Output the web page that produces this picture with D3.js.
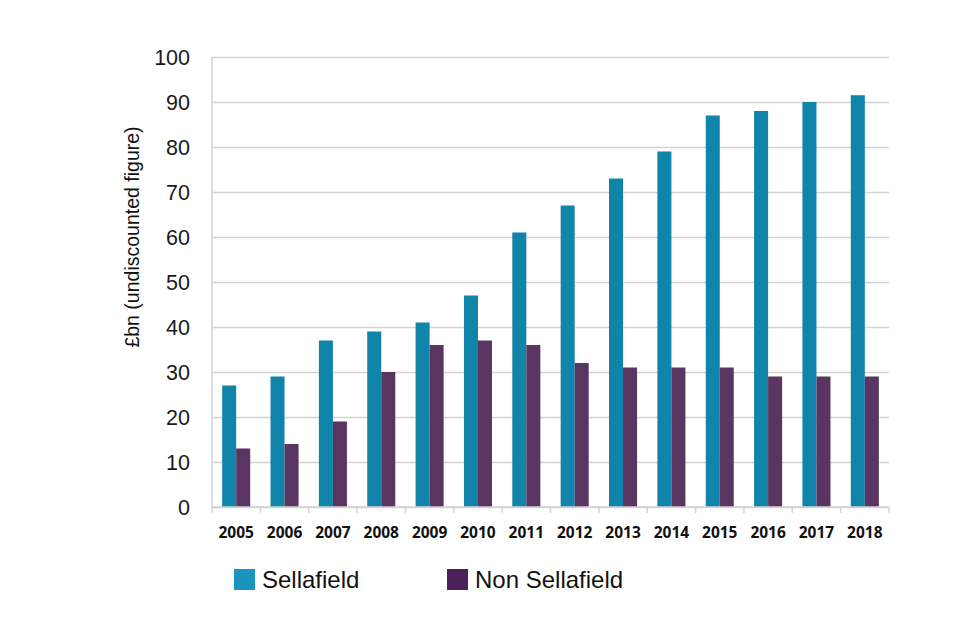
<!DOCTYPE html>
<html>
<head>
<meta charset="utf-8">
<script src="https://cdn.jsdelivr.net/npm/d3@7"></script>
<style>
  html, body { margin: 0; padding: 0; background: #fff; overflow: hidden; }
  svg { display: block; }
  .tick-y { font-family: "Liberation Sans", Arial, sans-serif; font-size: 21.5px; fill: #1a1a1a; }
  .tick-x { font-family: "Open Sans", sans-serif; font-weight: bold; font-size: 15.5px; fill: #111; }
  .axis-label { font-family: "Liberation Sans", Arial, sans-serif; font-size: 19.5px; fill: #111; }
  .legend-text { font-family: "Liberation Sans", Arial, sans-serif; font-size: 24px; fill: #111; }
</style>
</head>
<body>
<svg width="960" height="640"></svg>
<script>
const years = ["2005", "2006", "2007", "2008", "2009", "2010", "2011", "2012", "2013", "2014", "2015", "2016", "2017", "2018"]
const sellafield = [27, 29, 37, 39, 41, 47, 61, 67, 73, 79, 87, 88, 90, 91.5]
const nonSellafield = [13, 14, 19, 30, 36, 37, 36, 32, 31, 31, 31, 29, 29, 29]
const seriesNames = ["Sellafield", "Non Sellafield"]
const yTicks = [0, 10, 20, 30, 40, 50, 60, 70, 80, 90, 100]

const colors = ["#1184aa", "#5b3562"]
const legendColors = ["#1b94bd", "#4e1f5d"]

const svg = d3.select("svg")
const margin = {top: 57, right: 71, bottom: 133, left: 212}
const width = +svg.attr("width")
const height = +svg.attr("height")
const innerWidth = width - margin.left - margin.right
const innerHeight = height - margin.top - margin.bottom

const data = years.map((y, i) => ({year: y, values: [sellafield[i], nonSellafield[i]]}))

const xScale = d3.scaleBand()
  .domain(years)
  .range([0, innerWidth])
  .paddingInner(0.42)
  .paddingOuter(0.21)

const xInner = d3.scaleBand()
  .domain([0, 1])
  .range([0, xScale.bandwidth()])

const yScale = d3.scaleLinear()
  .domain([0, 100])
  .range([innerHeight, 0])

const g = svg.append("g")
  .attr("transform", `translate(${margin.left}, ${margin.top})`)

// gridlines
const yAxis = d3.axisLeft(yScale)
  .tickValues(yTicks)
  .tickSize(-innerWidth)
  .tickPadding(22)

const yAxisG = g.append("g").call(yAxis)
yAxisG.select(".domain").remove()
yAxisG.selectAll("line")
  .attr("stroke", "#d3d3d3")
  .attr("stroke-width", 1.5)
yAxisG.selectAll("text")
  .attr("class", "tick-y")
  .attr("dy", "0.35em")

// left axis line
g.append("line")
  .attr("x1", 0).attr("x2", 0)
  .attr("y1", 0).attr("y2", innerHeight)
  .attr("stroke", "#d3d3d3")
  .attr("stroke-width", 1.5)

// bars
const groups = g.selectAll(".year").data(data)
  .enter().append("g")
  .attr("class", "year")
  .attr("transform", d => `translate(${xScale(d.year)}, 0)`)

groups.selectAll("rect").data(d => d.values)
  .enter().append("rect")
  .attr("x", (d, i) => xInner(i))
  .attr("width", xInner.bandwidth())
  .attr("y", d => yScale(d))
  .attr("height", d => innerHeight - yScale(d))
  .attr("fill", (d, i) => colors[i])

// x axis with boundary ticks
const boundaries = d3.range(years.length + 1).map(i => i * innerWidth / years.length)
g.append("line")
  .attr("x1", 0).attr("x2", innerWidth)
  .attr("y1", innerHeight).attr("y2", innerHeight)
  .attr("stroke", "#d3d3d3")
  .attr("stroke-width", 1.5)
g.selectAll(".xtick").data(boundaries)
  .enter().append("line")
  .attr("class", "xtick")
  .attr("x1", d => d).attr("x2", d => d)
  .attr("y1", innerHeight).attr("y2", innerHeight + 6)
  .attr("stroke", "#d3d3d3")
  .attr("stroke-width", 1.5)

g.selectAll(".tick-x").data(years)
  .enter().append("text")
  .attr("class", "tick-x")
  .attr("x", d => xScale(d) + xScale.bandwidth() / 2)
  .attr("y", innerHeight + 31)
  .attr("text-anchor", "middle")
  .text(d => d)

// y axis label
svg.append("text")
  .attr("class", "axis-label")
  .attr("transform", `translate(139, 237) rotate(-90)`)
  .attr("text-anchor", "middle")
  .text("£bn (undiscounted figure)")

// legend
const legendX = [234, 447]
const legend = svg.selectAll(".legend").data(seriesNames)
  .enter().append("g")
  .attr("class", "legend")
  .attr("transform", (d, i) => `translate(${legendX[i]}, 569)`)

legend.append("rect")
  .attr("width", 21)
  .attr("height", 21)
  .attr("fill", (d, i) => legendColors[i])

legend.append("text")
  .attr("class", "legend-text")
  .attr("x", 28)
  .attr("y", 19)
  .text(d => d)
</script>
</body>
</html>
